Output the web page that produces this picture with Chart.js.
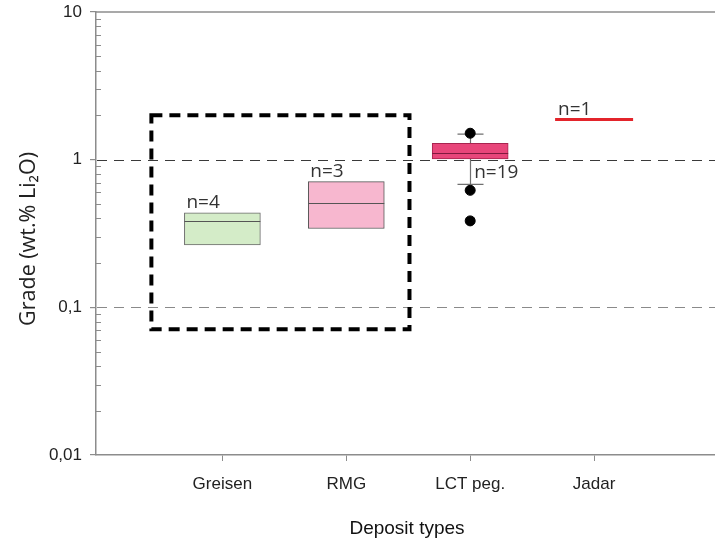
<!DOCTYPE html>
<html>
<head>
<meta charset="utf-8">
<script src="https://cdn.jsdelivr.net/npm/chart.js@4.4.1/dist/chart.umd.min.js"></script>
<style>
  html, body { margin: 0; padding: 0; background: #fff; overflow: hidden; }
  #wrap { width: 724px; height: 543px; }
</style>
</head>
<body>
<div id="wrap"><canvas id="grades" width="724" height="543"></canvas></div>
<script>
// Lithium grade (wt.% Li2O) by deposit type
const categories   = ['Greisen', 'RMG', 'LCT peg.', 'Jadar'];
const sampleCounts = [4, 3, 19, 1];
const q1           = [0.265, 0.342, 1.01, null];
const median       = [0.385, 0.51, 1.11, 1.87];
const q3           = [0.436, 0.71, 1.29, null];
const whiskerLow   = [null, null, 0.68, null];
const whiskerHigh  = [null, null, 1.49, null];
const lctOutliers  = [1.51, 0.62, 0.385];
const yTickValues  = [0.01, 0.1, 1, 10];
const yTickLabels  = ['0,01', '0,1', '1', '10'];
const referenceGrades = [1, 0.1];
// dashed frame around the granite-related deposit types (data units)
const highlightX = [0.427, 2.51];
const highlightY = [0.071, 2];

const boxFill   = ['rgba(212,236,200,1)', 'rgba(247,183,207,1)', 'rgba(232,70,122,1)', null];
const boxBorder = ['#6a6a6a', '#555555', '#a8244f', null];
const medianCol = ['#555555', '#555555', '#7e1a3e', '#e3242b'];
const BOX_PX = 76;

const boxData = [];
const boxBg = [], boxBd = [];
categories.forEach((c, i) => {
  if (q1[i] != null && q3[i] != null) {
    boxData.push({ x: i + 1, y: [q1[i], q3[i]] });
    boxBg.push(boxFill[i]);
    boxBd.push(boxBorder[i]);
  }
});
const outlierData = lctOutliers.map(v => ({ x: categories.indexOf('LCT peg.') + 1, y: v }));

const boxPlotExtras = {
  id: 'boxPlotExtras',
  beforeDatasetsDraw(chart) {
    const { ctx, chartArea: a, scales: { x, y } } = chart;
    ctx.save();
    // top frame line
    ctx.strokeStyle = '#8c8c8c';
    ctx.lineWidth = 1.5;
    ctx.beginPath();
    ctx.moveTo(a.left, a.top);
    ctx.lineTo(a.right, a.top);
    ctx.stroke();
    // inner minor ticks on the log axis
    ctx.lineWidth = 1;
    ctx.beginPath();
    for (let d = -2; d < 1; d++) {
      for (let m = 2; m <= 9; m++) {
        const py = Math.round(y.getPixelForValue(m * Math.pow(10, d))) + 0.5;
        ctx.moveTo(a.left, py);
        ctx.lineTo(a.left + 5, py);
      }
    }
    ctx.stroke();
    // dashed reference grades
    referenceGrades.forEach((g, k) => {
      const py = Math.round(y.getPixelForValue(g)) + 0.5;
      ctx.strokeStyle = k === 0 ? '#3a3a3a' : '#8a8a8a';
      ctx.lineWidth = 1.2;
      ctx.setLineDash([10, 7]);
      ctx.beginPath();
      ctx.moveTo(a.left + 1, py);
      ctx.lineTo(a.right, py);
      ctx.stroke();
    });
    ctx.setLineDash([]);
    // whiskers
    categories.forEach((c, i) => {
      if (whiskerLow[i] == null) return;
      const cx = Math.round(x.getPixelForValue(i + 1)) + 0.5;
      const yl = y.getPixelForValue(whiskerLow[i]);
      const yh = y.getPixelForValue(whiskerHigh[i]);
      const yb = y.getPixelForValue(q1[i]);
      const yt = y.getPixelForValue(q3[i]);
      ctx.strokeStyle = '#707070';
      ctx.lineWidth = 1.2;
      ctx.beginPath();
      ctx.moveTo(cx, yb); ctx.lineTo(cx, yl);
      ctx.moveTo(cx, yt); ctx.lineTo(cx, yh);
      ctx.moveTo(cx - 13, yl); ctx.lineTo(cx + 13, yl);
      ctx.moveTo(cx - 13, yh); ctx.lineTo(cx + 13, yh);
      ctx.stroke();
    });
    ctx.restore();
  },
  afterDatasetsDraw(chart) {
    const { ctx, scales: { x, y } } = chart;
    ctx.save();
    // medians (single value drawn as a thick line)
    categories.forEach((c, i) => {
      const cx = x.getPixelForValue(i + 1);
      const py = y.getPixelForValue(median[i]);
      const single = q1[i] == null;
      const half = single ? 39 : BOX_PX / 2;
      ctx.strokeStyle = medianCol[i];
      ctx.lineWidth = single ? 3 : 1;
      ctx.beginPath();
      ctx.moveTo(cx - half, single ? py : Math.round(py) + 0.5);
      ctx.lineTo(cx + half, single ? py : Math.round(py) + 0.5);
      ctx.stroke();
    });
    // sample counts
    ctx.font = '19px "Open Sans", "Noto Sans", sans-serif';
    ctx.fillStyle = '#333';
    ctx.textBaseline = 'alphabetic';
    ctx.textAlign = 'left';
    categories.forEach((c, i) => {
      const cx = x.getPixelForValue(i + 1);
      const label = 'n=' + sampleCounts[i];
      if (whiskerLow[i] != null) {
        ctx.fillText(label, cx + 4, y.getPixelForValue(q1[i]) + 19);
      } else if (q3[i] != null) {
        ctx.fillText(label, cx - BOX_PX / 2 + 2, y.getPixelForValue(q3[i]) - 5);
      } else {
        ctx.fillText(label, cx - 36, y.getPixelForValue(median[i]) - 5);
      }
    });
    // dashed highlight frame
    const x0 = x.getPixelForValue(highlightX[0]);
    const x1 = x.getPixelForValue(highlightX[1]);
    const y0 = y.getPixelForValue(highlightY[1]);
    const y1 = y.getPixelForValue(highlightY[0]);
    ctx.strokeStyle = '#000';
    ctx.lineWidth = 4;
    ctx.setLineDash([11, 7]);
    ctx.strokeRect(x0, y0, x1 - x0, y1 - y0);
    ctx.restore();
  }
};

new Chart(document.getElementById('grades'), {
  type: 'bar',
  data: {
    datasets: [
      {
        type: 'scatter',
        data: outlierData,
        pointRadius: 5,
        pointHoverRadius: 5,
        backgroundColor: '#000',
        borderColor: '#000'
      },
      {
        type: 'bar',
        data: boxData,
        backgroundColor: boxBg,
        borderColor: boxBd,
        borderWidth: 1,
        borderSkipped: false,
        barThickness: BOX_PX
      }
    ]
  },
  options: {
    responsive: false,
    devicePixelRatio: 1,
    animation: false,
    layout: { padding: { top: 12, right: 0, bottom: 0, left: 0 } },
    plugins: { legend: { display: false }, tooltip: { enabled: false } },
    scales: {
      x: {
        type: 'linear',
        min: -0.02,
        max: 5,
        offset: false,
        afterBuildTicks: s => { s.ticks = categories.map((c, i) => ({ value: i + 1 })); },
        afterFit: s => { s.height = 88; s.paddingLeft = 0; s.paddingRight = 0; },
        ticks: {
          callback: v => categories[Math.round(v) - 1],
          font: { family: '"Liberation Sans", Arial, sans-serif', size: 17 },
          color: '#222',
          padding: 13,
          maxRotation: 0,
          autoSkip: false
        },
        grid: { offset: false, drawOnChartArea: false, drawTicks: true, tickLength: 6, color: '#8c8c8c', lineWidth: 1 },
        border: { display: true, color: '#8c8c8c', width: 1.5 },
        title: {
          display: true,
          text: 'Deposit types',
          font: { family: '"Liberation Sans", Arial, sans-serif', size: 19 },
          color: '#111',
          padding: { top: 0, bottom: 3 }
        }
      },
      y: {
        type: 'logarithmic',
        min: 0.01,
        max: 10,
        afterBuildTicks: s => { s.ticks = yTickValues.map(v => ({ value: v, major: true })); },
        afterFit: s => { s.width = 96; s.paddingTop = 0; s.paddingBottom = 0; },
        ticks: {
          callback: v => yTickLabels[yTickValues.indexOf(v)],
          font: { family: '"Liberation Sans", Arial, sans-serif', size: 17 },
          color: '#222',
          padding: 8,
          autoSkip: false
        },
        grid: { drawOnChartArea: false, drawTicks: true, tickLength: 6, color: '#8c8c8c', lineWidth: 1.2 },
        border: { display: true, color: '#8c8c8c', width: 1.5 },
        title: {
          display: true,
          text: 'Grade (wt.% Li₂O)\u2002',
          font: { family: '"Open Sans", "Noto Sans", sans-serif', size: 21.5 },
          color: '#222',
          padding: { top: 16, bottom: 0 }
        }
      }
    }
  },
  plugins: [boxPlotExtras]
});
</script>
</body>
</html>
